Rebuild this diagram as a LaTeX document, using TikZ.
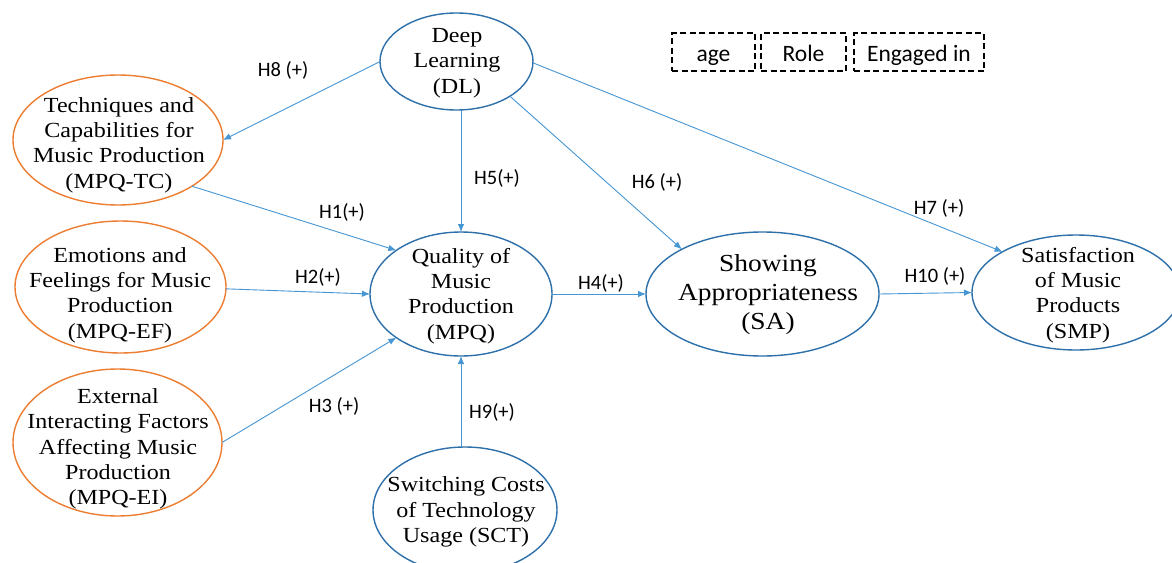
\documentclass[tikz,border=0pt]{standalone}
\usepackage{fontspec}
\setmainfont{Liberation Serif}
\newfontfamily\labfont{Carlito}
\newfontfamily\ellfont[FakeStretch=1.12]{Liberation Serif}
\usetikzlibrary{shapes.geometric,arrows.meta}
\definecolor{orng}{RGB}{237,125,49}
\definecolor{eblue}{RGB}{46,112,170}
\definecolor{ablue}{RGB}{70,150,212}
\tikzset{
  ellB/.style={ellipse, draw=eblue, line width=1.4pt, inner sep=0pt, outer sep=0pt},
  ellO/.style={ellipse, draw=orng, line width=1.4pt, inner sep=0pt, outer sep=0pt},
  etext/.style={font=\ellfont\fontsize{21.5}{25.4}\selectfont, align=center, inner sep=0pt},
  etextbig/.style={font=\ellfont\fontsize{24.5}{29}\selectfont, align=center, inner sep=0pt},
  hlab/.style={font=\labfont\fontsize{20.5}{24}\selectfont, inner sep=0pt},
  dbox/.style={draw=black, line width=1.2pt, dash pattern=on 6pt off 3.5pt, minimum height=38pt,
    inner sep=0pt, text height=19pt, text depth=1pt, font=\labfont\fontsize{23.5}{27}\selectfont},
  arr/.style={draw=ablue, line width=0.9pt, -{Latex[length=8pt,width=6.5pt]}}
}
\begin{document}
\begin{tikzpicture}[x=1pt,y=-1pt]
\useasboundingbox (0,0) rectangle (1172,562);
\clip (0,0) rectangle (1172,562);
\fill[white] (0,0) rectangle (1172,562);

% ellipses
\node[ellB, minimum width=153pt, minimum height=97pt] (DL) at (456.5,61.5) {};
\node[ellO, minimum width=210pt, minimum height=130pt] (TC) at (118,140) {};
\node[ellO, minimum width=211pt, minimum height=132pt] (EF) at (120.5,287) {};
\node[ellO, minimum width=209pt, minimum height=147pt] (EI) at (117.5,442.5) {};
\node[ellB, minimum width=182pt, minimum height=124pt] (MPQ) at (461,294) {};
\node[ellB, minimum width=184pt, minimum height=126pt] (SCT) at (465,510) {};
\node[ellB, minimum width=233pt, minimum height=124pt] (SA) at (762.5,294) {};
\node[ellB, minimum width=208pt, minimum height=115pt] (SMP) at (1076,292.5) {};

% texts
\node[etext] (tDL) at (457,63) {Deep\\Learning\\(DL)};
\node[etext] (tTC) at (119,145) {Techniques and\\Capabilities for\\Music Production\\(MPQ-TC)};
\node[etext] (tEF) at (120,295) {Emotions and\\Feelings for Music\\Production\\(MPQ-EF)};
\node[etext] (tEI) at (118,449) {External\\Interacting Factors\\Affecting Music\\Production\\(MPQ-EI)};
\node[etext] (tMPQ) at (461,296) {Quality of\\Music\\Production\\(MPQ)};
\node[etext] (tSCT) at (466,512) {Switching Costs\\of Technology\\Usage (SCT)};
\node[etextbig] (tSA) at (768,295) {Showing\\Appropriateness\\(SA)};
\node[etext] (tSMP) at (1078,295) {Satisfaction\\of Music\\Products\\(SMP)};

% dashed boxes
\node[dbox, minimum width=83pt] (age) at (713.5,52) {age};
\node[dbox, minimum width=85pt] (role) at (803.5,52) {Role};
\node[dbox, minimum width=130pt] (eng) at (919,52) {Engaged in};

% connectors
\draw[arr] (DL.west) -- (TC.east);
\draw[arr] (DL.south -| MPQ.north) -- (MPQ.north);
\draw[arr] (DL.327) -- (SA.151.6);
\draw[arr] (DL.359) -- (SMP.151.6);
\draw[arr] (TC.328) -- (MPQ.146);
\draw[arr] (EF.359) -- (MPQ.west);
\draw[arr] (EI.east) -- (MPQ.214.7);
\draw[arr] (SCT.north -| MPQ.south) -- (MPQ.south);
\draw[arr] (MPQ.east) -- (SA.west);
\draw[arr] (SA.east) -- (SMP.west);

% labels
\node[hlab] (h8) at (283,70) {H8 (+)};
\node[hlab] (h5) at (497,178) {H5(+)};
\node[hlab] (h6) at (657,182) {H6 (+)};
\node[hlab] (h7) at (939,208) {H7 (+)};
\node[hlab] (h1) at (342,212) {H1(+)};
\node[hlab] (h2) at (318,277) {H2(+)};
\node[hlab] (h4) at (601,283) {H4(+)};
\node[hlab] (h10) at (935,276) {H10 (+)};
\node[hlab] (h3) at (334,406) {H3 (+)};
\node[hlab] (h9) at (492,412) {H9(+)};
\end{tikzpicture}
\end{document}
